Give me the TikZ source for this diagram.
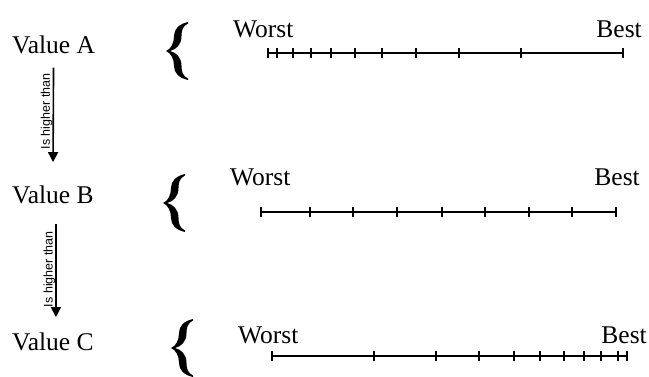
\documentclass[tikz,border=0pt]{standalone}
\usepackage{fontspec}
\setmainfont{Liberation Serif}
\newfontfamily\arialfont{Liberation Sans}
\usetikzlibrary{arrows.meta, positioning}

\begin{document}
\begin{tikzpicture}[x=1pt, y=-1pt,
  value/.style={inner sep=0pt, font=\fontsize{25.5}{28}\selectfont},
  higher/.style={-{Triangle[length=10pt,width=10pt]}, line width=1.6pt},
  rel/.style={rotate=90, anchor=south, inner sep=0pt, font=\arialfont\fontsize{12.5}{14}\selectfont},
  scaleline/.style={line width=1.6pt}]
\useasboundingbox (0,0) rectangle (649,376);
\clip (0,0) rectangle (649,376);

% values on the left
\node[value, anchor=base west] (valA) at (12,53) {Value A};
\node[value, anchor=base west] (valB) at (12,203) {Value B};
\node[value, anchor=base west] (valC) at (12,350) {Value C};

\draw[higher, shorten <=14pt, shorten >=23pt] (valA.south) -- (valB.north)
  node[rel, pos=0.44] (relAB) {Is higher than};
\draw[higher, shorten <=20pt, shorten >=15pt] ([xshift=3pt]valB.south) -- ([xshift=3pt]valC.north)
  node[rel, pos=0.51] (relBC) {Is higher than};

% braces (cusp at the coordinate)
\coordinate (braceA) at (166,51);
\coordinate (braceB) at (163,203);
\coordinate (braceC) at (171,348);
\foreach \b in {braceA,braceB,braceC}
  \fill[shift={(\b)}] (0,0) .. controls (5,-2) and (8,-8) .. (8,-15)
    .. controls (8,-22) and (13,-27) .. (22,-29) -- (22,-27.5)
    .. controls (17,-25) and (15.5,-21) .. (15.5,-15)
    .. controls (15.5,-6) and (10,-1.5) .. (4,0)
    .. controls (10,1.5) and (15.5,6) .. (15.5,15)
    .. controls (15.5,21) and (17,25) .. (22,27.5) -- (22,29)
    .. controls (13,27) and (8,22) .. (8,15)
    .. controls (8,8) and (5,2) .. (0,0) -- cycle;

% scale A
\node[value, anchor=base west] (worstA) at (233,37) {Worst};
\node[value, anchor=base east] (bestA) at (642,37) {Best};
\draw[scaleline] (268,53) -- (623,53);
\foreach \x in {268,277,293,311,331,355,382,416,459,521,623}
  \draw[scaleline] (\x,48) -- (\x,58);

% scale B
\node[value, anchor=base west] (worstB) at (230,185) {Worst};
\node[value, anchor=base east] (bestB) at (640,185) {Best};
\draw[scaleline] (261,212) -- (616,212);
\foreach \x in {261,310,353,397,442,485,529,572,616}
  \draw[scaleline] (\x,207) -- (\x,217);

% scale C
\node[value, anchor=base west] (worstC) at (238,343) {Worst};
\node[value, anchor=base east] (bestC) at (647,343) {Best};
\draw[scaleline] (272,356) -- (627,356);
\foreach \x in {272,374,436,479,514,540,564,584,601,618,627}
  \draw[scaleline] (\x,351) -- (\x,361);
\end{tikzpicture}
\end{document}
